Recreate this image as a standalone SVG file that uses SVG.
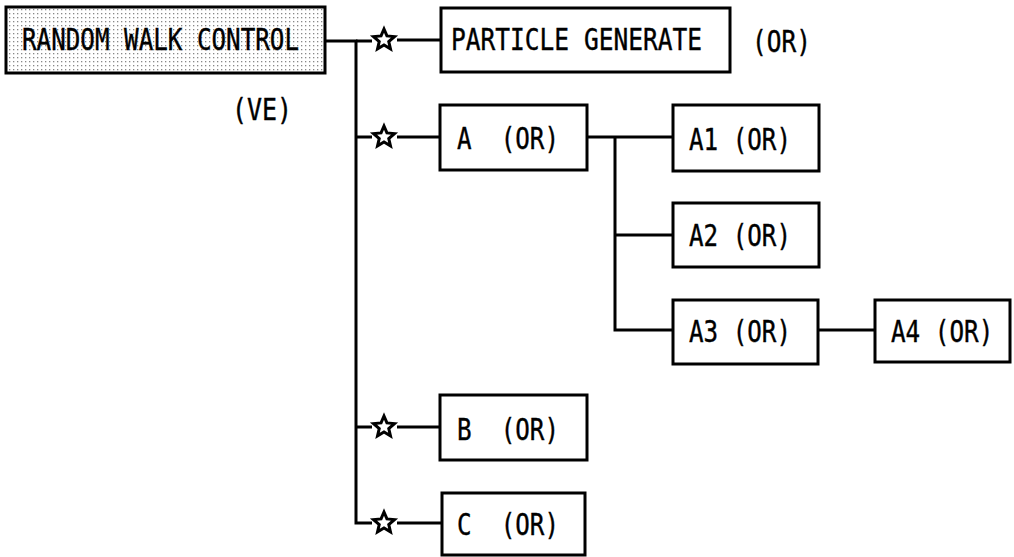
<svg xmlns="http://www.w3.org/2000/svg" width="1014" height="557" viewBox="0 0 1014 557">
<style>
.box{fill:#fff;stroke:#000;stroke-width:3}
.lbl{font-family:"DejaVu Sans Mono","Liberation Mono",monospace;font-size:30px;fill:#000;stroke:#000;stroke-width:0.4;white-space:pre}
.ln{fill:none;stroke:#000;stroke-width:3}
.star{fill:#fff;stroke:#000;stroke-width:3;stroke-linejoin:miter}
</style>
<defs>
<pattern id="dots" width="4" height="4" patternUnits="userSpaceOnUse">
<rect width="4" height="4" fill="#fff"/>
<rect x="1" y="1" width="1.3" height="1.3" fill="#888"/>
</pattern>
<path id="st" d="M0,-11 L2.94,-4.05 L10.46,-3.4 L4.76,1.55 L6.47,8.9 L0,5 L-6.47,8.9 L-4.76,1.55 L-10.46,-3.4 L-2.94,-4.05 Z"/>
</defs>
<g id="connectors">
<path class="ln" d="M325,41 H356 V523 H372"/>
<path class="ln" d="M356,41 H372 M397,40 H441"/>
<path class="ln" d="M356,137 H372 M397,137 H440"/>
<path class="ln" d="M356,427 H372 M397,427 H440"/>
<path class="ln" d="M397,523 H442"/>
<path class="ln" d="M587,137 H673 M615,137 V330 H673 M615,235 H673"/>
<path class="ln" d="M818,330 H875"/>
<use href="#st" class="star" x="384" y="40"/>
<use href="#st" class="star" x="384" y="137"/>
<use href="#st" class="star" x="384" y="427"/>
<use href="#st" class="star" x="384" y="523"/>
</g>
<g id="root">
<rect x="6" y="7" width="319" height="66" fill="url(#dots)" stroke="#000" stroke-width="3"/>
<text class="lbl" x="22" y="50" textLength="277" lengthAdjust="spacingAndGlyphs">RANDOM WALK CONTROL</text>
<text class="lbl" x="232" y="120" textLength="60" lengthAdjust="spacingAndGlyphs">(VE)</text>
</g>
<g id="particle">
<rect class="box" x="441" y="8" width="289" height="64"/>
<text class="lbl" x="451" y="50" textLength="251" lengthAdjust="spacingAndGlyphs">PARTICLE GENERATE</text>
<text class="lbl" x="752" y="52" textLength="59" lengthAdjust="spacingAndGlyphs">(OR)</text>
</g>
<g id="nodeA">
<rect class="box" x="440" y="105" width="147" height="65"/>
<text class="lbl" x="457" y="149" textLength="102" lengthAdjust="spacingAndGlyphs">A  (OR)</text>
</g>
<g id="nodeA1">
<rect class="box" x="673" y="105" width="146" height="66"/>
<text class="lbl" x="689" y="150" textLength="102" lengthAdjust="spacingAndGlyphs">A1 (OR)</text>
</g>
<g id="nodeA2">
<rect class="box" x="673" y="203" width="146" height="64"/>
<text class="lbl" x="689" y="246" textLength="102" lengthAdjust="spacingAndGlyphs">A2 (OR)</text>
</g>
<g id="nodeA3">
<rect class="box" x="673" y="300" width="145" height="64"/>
<text class="lbl" x="689" y="342" textLength="102" lengthAdjust="spacingAndGlyphs">A3 (OR)</text>
</g>
<g id="nodeA4">
<rect class="box" x="875" y="300" width="135" height="62"/>
<text class="lbl" transform="translate(891,342) scale(0.81,1)" x="0" y="0">A4 (OR)</text>
</g>
<g id="nodeB">
<rect class="box" x="440" y="395" width="147" height="65"/>
<text class="lbl" x="457" y="440" textLength="102" lengthAdjust="spacingAndGlyphs">B  (OR)</text>
</g>
<g id="nodeC">
<rect class="box" x="442" y="493" width="143" height="62"/>
<text class="lbl" x="457" y="535" textLength="102" lengthAdjust="spacingAndGlyphs">C  (OR)</text>
</g>
</svg>
